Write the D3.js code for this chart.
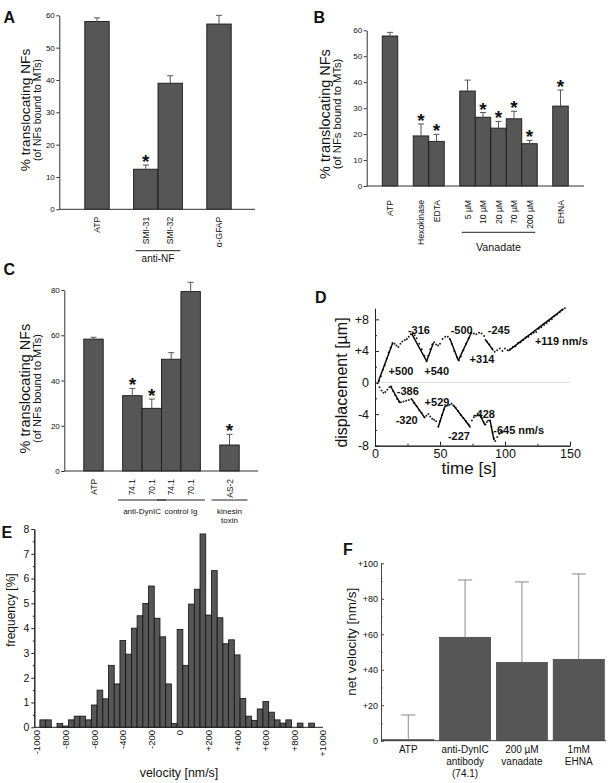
<!DOCTYPE html>
<html><head><meta charset="utf-8">
<script src="https://cdn.jsdelivr.net/npm/d3@7"></script>
<style>
body{margin:0;background:#fff}
svg{display:block}
text{font-family:"Liberation Sans",Arial,Helvetica,sans-serif;fill:#111}
</style>
</head><body>
<svg id="c" width="609" height="783"></svg>
<script>
// ---------- Panel A ----------
const aCats  = ["ATP","SMI-31","SMI-32","α-GFAP"];
const aGaps  = [0,1,0,1];
const aVals  = [58.1,12.4,39.0,57.3];
const aErrs  = [1.1,1.3,2.3,2.7];
const aStars = [0,1,0,0];
const aTicks = [0,10,20,30,40,50,60];
const aGroups = [{label:["anti-NF"],from:1,to:2}];

// ---------- Panel B ----------
const bCats  = ["ATP","Hexokinase","EDTA","5 µM","10 µM","20 µM","70 µM","200 µM","EHNA"];
const bGaps  = [0,1,0,1,0,0,0,0,1];
const bVals  = [57.8,19.3,17.2,36.6,26.5,22.3,25.9,16.3,30.8];
const bErrs  = [1.4,4.6,2.7,4.2,1.8,2.6,2.9,1.3,6.2];
const bStars = [0,1,1,0,1,1,1,1,1];
const bTicks = [0,10,20,30,40,50,60];
const bGroups = [{label:["Vanadate"],from:3,to:7}];

// ---------- Panel C ----------
const cCats  = ["ATP","74.1","70.1","74.1","70.1","AS-2"];
const cGaps  = [0,1,0,0,0,1];
const cVals  = [58.3,33.3,27.7,49.4,79.3,11.5];
const cErrs  = [0.8,3.2,4.1,2.9,4.1,4.7];
const cStars = [0,1,1,0,0,1];
const cTicks = [0,20,40,60,80];
const cGroups = [{label:["anti-DynIC"],from:1,to:2},{label:["control Ig"],from:3,to:4},{label:["kinesin","toxin"],from:5,to:5}];

// ---------- Panel D ----------
const dUpperDots = [[3,0.2],[4.5,0.8],[6,1.6],[7.5,2.2],[9,3.0],[10.5,3.8],[12,4.4],[13.5,5.0],[15,4.9],[16.5,4.7],[18,4.5],[19.5,4.9],[21,5.2],[23,5.4],[24.5,5.5],[26,5.8],[27.5,6.1],[29,6.2],[30.5,6.0],[32,5.6],[34,4.9],[36,4.2],[38,3.4],[39.7,2.7],[41,3.4],[42.5,4.2],[44,4.8],[45.5,5.1],[47,4.8],[48.5,4.7],[50,4.9],[52,5.5],[54,5.8],[56,5.8],[57.5,5.5],[59,4.9],[61,4.0],[63,3.2],[64.5,2.8],[66,3.3],[68,4.1],[70,4.9],[72,5.6],[74,6.3],[76,6.2],[78,6.1],[80,6.3],[82,6.2],[84,5.9],[86,5.2],[88,4.8],[90,4.3],[92,3.9],[94,4.1],[96,4.3],[98,4.0],[100,4.3],[102,4.1],[104,4.2],[106,4.5],[108,4.6],[110,5.0],[112,5.1],[114,5.4],[116,5.7],[118,5.8],[120,6.1],[122,6.3],[124,6.4],[126,6.8],[128,7.0],[130,7.3],[132,7.5],[134,7.8],[136,8.0],[138,8.4],[140,8.6],[142,8.9],[144,9.2],[146,9.4]];
const dLowerDots = [[2,-0.1],[3.5,-0.6],[5,-1.0],[6.5,-1.3],[8,-1.2],[9.5,-0.9],[11,-0.6],[12.5,-0.5],[14,-1.1],[15.5,-1.6],[17,-2.1],[18.5,-2.4],[20,-2.5],[22,-2.4],[24,-2.3],[26,-2.2],[28,-2.1],[30,-2.6],[32,-3.0],[34,-3.5],[36,-3.9],[38,-4.4],[39.5,-4.2],[41,-4.0],[42.5,-4.3],[44,-4.6],[45.5,-4.7],[47,-4.9],[48.7,-5.6],[50,-4.9],[51.5,-4.1],[53,-3.4],[54.5,-3.0],[56,-2.9],[57.5,-2.8],[59,-2.7],[60.3,-2.9],[62,-3.2],[64,-3.6],[66,-4.1],[68,-4.5],[70,-4.9],[72,-5.3],[73,-5.6],[74.5,-4.8],[76,-4.4],[77.5,-4.2],[79,-4.0],[80.5,-4.1],[82,-4.5],[83.5,-5.0],[85,-5.3],[86,-5.0],[87,-4.8],[88.5,-4.8],[89.5,-5.6],[90.5,-6.4],[91.5,-7.1],[92.5,-7.4],[94,-6.9],[95.5,-6.5],[97,-6.2],[98,-6.3]];
const dFits = [[2.5,0.1,13.6,5.0],[28.2,6.2,39.7,2.7],[39.7,2.7,44.9,5.0],[57.7,5.5,64.1,2.8],[64.1,2.8,74.4,6.4],[84.6,5.5,91,4.07],[102.6,4.0,144.9,9.33],
               [12,-0.47,19.2,-2.57],[28.2,-2.1,38.5,-4.5],[48.7,-5.6,53.8,-3.0],[60.3,-2.86,73.1,-5.6],[80.8,-4.1,84.6,-5.4],[88.5,-4.75,91.5,-7.3]];
const dLabels = [["-316",33.8,6.6,"middle"],["+500",20,1.5,"middle"],["+540",47.4,1.5,"middle"],["-500",66.7,6.6,"middle"],["+314",82.3,3.0,"middle"],["-245",95.2,6.6,"middle"],["+119 nm/s",123,5.2,"start"],
                 ["-386",25.2,-1.05,"middle"],["-320",24.4,-4.7,"middle"],["+529",47.7,-2.5,"middle"],["-227",64.6,-6.8,"middle"],["-428",83.8,-3.95,"middle"],["-645 nm/s",91,-6.05,"start"]];
const dXTicks = [0,50,100,150];
const dYTicks = [-8,-4,0,4,8];

// ---------- Panel E ----------
const eBinLo = [-980,-940,-900,-860,-820,-780,-740,-700,-660,-620,-580,-540,-500,-460,-420,-380,-340,-300,-260,-220,-180,-140,-100,-60,-20,20,60,100,140,180,220,260,300,340,380,420,460,500,540,580,620,660,700,740,780,820,860,900];
const eFreq  = [0.3,0.3,0,0.15,0.05,0.3,0.45,0.45,0.3,0.9,1.5,1.15,2.5,1.75,3.5,2.95,4.0,4.5,5.0,5.7,4.4,3.65,1.75,0.15,3.95,2.5,4.97,5.57,7.8,4.53,6.32,4.42,3.37,3.53,2.92,1.16,0.45,0.28,0.74,1.04,0.61,0.3,0.17,0.3,0,0.17,0,0.17];
const eBinW = 40;
const eXTicks = [-1000,-800,-600,-400,-200,0,200,400,600,800,1000];
const eYTicks = [0,1,2,3,4,5,6,7,8];

// ---------- Panel F ----------
const fCats = [["ATP"],["anti-DynIC","antibody","(74.1)"],["200 µM","vanadate"],["1mM","EHNA"]];
const fVals = [0.6,58.3,44.2,45.9];
const fErrs = [13.9,32.3,45.3,48.1];
const fTicks = [0,20,40,60,80,100];

const svg = d3.select("#c");
svg.append("rect").attr("width",609).attr("height",783).attr("fill","#fff");

function panelLetter(t,x,y){
  svg.append("text").attr("x",x).attr("y",y).attr("font-size",16).attr("font-weight","bold").text(t);
}

function barPanel(o){
  const g = svg.append("g");
  const slots=[]; let s=0;
  o.cats.forEach((c,i)=>{ s += o.gaps[i]; slots.push(s); s+=1; });
  const last = slots[slots.length-1];
  const x = d3.scaleLinear().domain([0,last]).range(o.centers);
  const bw = x(1)-x(0);
  const y = d3.scaleLinear().domain([0,o.yMax]).range(o.yPx);
  g.selectAll("rect.bar").data(o.vals).join("rect")
    .attr("x",(d,i)=>x(slots[i])-bw/2).attr("width",bw)
    .attr("y",d=>y(d)).attr("height",d=>y(0)-y(d))
    .attr("fill","#565656").attr("stroke","#1a1a1a").attr("stroke-width",0.9);
  o.vals.forEach((v,i)=>{
    const cx=x(slots[i]), top=y(v+o.errs[i]);
    g.append("line").attr("x1",cx).attr("x2",cx).attr("y1",y(v)).attr("y2",top).attr("stroke","#555").attr("stroke-width",1);
    g.append("line").attr("x1",cx-3).attr("x2",cx+3).attr("y1",top).attr("y2",top).attr("stroke","#555").attr("stroke-width",1);
    if(o.stars[i]) g.append("text").attr("x",cx).attr("y",top+3).attr("text-anchor","middle")
        .attr("font-size",19).attr("font-weight","bold").text("*");
  });
  const ax = g.append("g").attr("transform",`translate(${o.axisX},0)`)
    .call(d3.axisLeft(y).tickValues(o.ticks).tickSize(3).tickSizeOuter(0).tickPadding(1.5));
  ax.select(".domain").attr("stroke","#333");
  ax.selectAll(".tick line").attr("stroke","#333");
  ax.selectAll(".tick text").attr("font-size",o.tickFs).attr("font-family","Liberation Sans, Arial, sans-serif").attr("fill","#222");
  g.append("line").attr("x1",o.axisX).attr("x2",o.xEnd).attr("y1",y(0)).attr("y2",y(0)).attr("stroke","#333").attr("stroke-width",1);
  o.cats.forEach((c,i)=>{
    g.append("text").attr("transform",`translate(${x(slots[i])+o.catFs*0.36},${y(0)+o.catOffset}) rotate(-90)`)
      .attr("text-anchor","end").attr("font-size",o.catFs).text(c);
  });
  o.groups.forEach(gr=>{
    const l=x(slots[gr.from])-bw/2+2, r=x(slots[gr.to])+bw/2-2, cx=(l+r)/2;
    const tw = d3.max(gr.label, t=>t.length)*o.groupFs*0.5+8;
    const L=Math.min(l,cx-tw/2), R=Math.max(r,cx+tw/2);
    g.append("line").attr("x1",L).attr("x2",R).attr("y1",o.groupLineY).attr("y2",o.groupLineY).attr("stroke","#222").attr("stroke-width",1);
    gr.label.forEach((t,k)=>{
      g.append("text").attr("x",cx).attr("y",o.groupTextY+k*o.groupLead).attr("text-anchor","middle").attr("font-size",o.groupFs).text(t);
    });
  });
  g.append("text").attr("transform",`translate(${o.ylab.x1},${o.ylab.y}) rotate(-90)`).attr("text-anchor","middle").attr("font-size",o.ylab.fs1).text("% translocating NFs");
  g.append("text").attr("transform",`translate(${o.ylab.x2},${o.ylab.y}) rotate(-90)`).attr("text-anchor","middle").attr("font-size",o.ylab.fs2).text("(of NFs bound to MTs)");
}

barPanel({cats:aCats,gaps:aGaps,vals:aVals,errs:aErrs,stars:aStars,ticks:aTicks,yMax:60,yPx:[209.3,15.3],axisX:59.3,xEnd:255,
  centers:[97,219],catOffset:7.5,catFs:8.5,tickFs:8,groups:aGroups,groupLineY:250.7,groupTextY:262,groupFs:10,groupLead:10,
  ylab:{x1:29.5,x2:40.5,y:110,fs1:13.7,fs2:10.3}});
barPanel({cats:bCats,gaps:bGaps,vals:bVals,errs:bErrs,stars:bStars,ticks:bTicks,yMax:60,yPx:[186,30.3],axisX:366.7,xEnd:584,
  centers:[390,560.5],catOffset:14,catFs:8.6,tickFs:8,groups:bGroups,groupLineY:232.3,groupTextY:251,groupFs:10.7,groupLead:11,
  ylab:{x1:330,x2:340.5,y:114,fs1:14.5,fs2:11.2}});
barPanel({cats:cCats,gaps:cGaps,vals:cVals,errs:cErrs,stars:cStars,ticks:cTicks,yMax:80,yPx:[471,290],axisX:64.3,xEnd:258,
  centers:[93.5,229.5],catOffset:8,catFs:8.4,tickFs:8,groups:cGroups,groupLineY:500,groupTextY:514,groupFs:8,groupLead:9.3,
  ylab:{x1:30,x2:41,y:388.5,fs1:14.5,fs2:11}});

panelLetter("A",3.5,22.7);
panelLetter("B",313.5,22.7);
panelLetter("C",3.5,275);
panelLetter("D",315,302.7);
panelLetter("E",1.5,538);
panelLetter("F",343,555);

// ---------- Panel D draw ----------
(function(){
  const g = svg.append("g");
  const x = d3.scaleLinear().domain([0,150]).range([375,570]);
  const y = d3.scaleLinear().domain([-8,9.4]).range([445.7,308.3]);
  g.append("line").attr("x1",x(0)).attr("x2",x(150)).attr("y1",y(0)).attr("y2",y(0)).attr("stroke","#d4d4d4").attr("stroke-width",0.8);
  const ay = g.append("g").attr("transform",`translate(${x(0)},0)`).call(d3.axisLeft(y).tickValues(dYTicks).tickSize(-4).tickSizeOuter(0).tickPadding(6)
     .tickFormat(d=>d>0?"+"+d:String(d)));
  const ay2 = g.append("g").attr("transform",`translate(${x(0)},0)`).call(d3.axisLeft(y).tickValues([-6,-2,2,6]).tickSize(-2).tickSizeOuter(0).tickFormat(""));
  const ax = g.append("g").attr("transform",`translate(0,${y(-8)})`).call(d3.axisBottom(x).tickValues(dXTicks).tickSize(-4).tickSizeOuter(0).tickPadding(3));
  const ax2 = g.append("g").attr("transform",`translate(0,${y(-8)})`).call(d3.axisBottom(x).tickValues([25,75,125]).tickSize(-2).tickSizeOuter(0).tickFormat(""));
  [ay,ay2,ax,ax2].forEach(a=>{a.selectAll("path,line").attr("stroke","#222");a.selectAll("text").attr("font-size",12.5).attr("font-family","Liberation Sans, Arial, sans-serif").attr("fill","#111");});
  g.selectAll("circle.u").data(dUpperDots.concat(dLowerDots)).join("circle")
    .attr("cx",d=>x(d[0])).attr("cy",d=>y(d[1])).attr("r",1).attr("fill","#222");
  g.selectAll("line.fit").data(dFits).join("line")
    .attr("x1",d=>x(d[0])).attr("y1",d=>y(d[1])).attr("x2",d=>x(d[2])).attr("y2",d=>y(d[3]))
    .attr("stroke","#000").attr("stroke-width",1.4);
  dLabels.forEach(l=>{
    g.append("text").attr("x",x(l[1])).attr("y",y(l[2])+4).attr("text-anchor",l[3]).attr("font-size",11).attr("font-weight","bold").attr("fill","#222").text(l[0]);
  });
  g.append("text").attr("transform",`translate(347,382.5) rotate(-90)`).attr("text-anchor","middle").attr("font-size",16).text("displacement [µm]");
  g.append("text").attr("x",469).attr("y",474.3).attr("text-anchor","middle").attr("font-size",17).text("time [s]");
})();

// ---------- Panel E draw ----------
(function(){
  const g = svg.append("g");
  const x = d3.scaleLinear().domain([-1000,1000]).range([37,323]);
  const y = d3.scaleLinear().domain([0,8]).range([727.3,529]);
  const data = eBinLo.map((lo,i)=>({lo,f:eFreq[i]})).filter(d=>d.f>0);
  g.selectAll("rect").data(data).join("rect")
    .attr("x",d=>x(d.lo)).attr("width",d=>x(d.lo+eBinW)-x(d.lo))
    .attr("y",d=>y(d.f)).attr("height",d=>y(0)-y(d.f))
    .attr("fill","#565656").attr("stroke","#111").attr("stroke-width",0.8);
  const ay = g.append("g").attr("transform","translate(34.3,0)").call(d3.axisLeft(y).tickValues(eYTicks).tickSize(3).tickSizeOuter(0).tickPadding(2));
  const ay2 = g.append("g").attr("transform","translate(34.3,0)").call(d3.axisLeft(y).tickValues([0.5,1.5,2.5,3.5,4.5,5.5,6.5,7.5]).tickSize(1.5).tickSizeOuter(0).tickFormat(""));
  [ay,ay2].forEach(a=>{a.selectAll("path,line").attr("stroke","#222");a.selectAll("text").attr("font-size",10.5).attr("font-family","Liberation Sans, Arial, sans-serif").attr("fill","#111");});
  g.append("line").attr("x1",34.3).attr("x2",323).attr("y1",y(0)).attr("y2",y(0)).attr("stroke","#222");
  eXTicks.forEach(v=>{
    g.append("text").attr("transform",`translate(${x(v)+9.5*0.36},730) rotate(-90)`).attr("text-anchor","end").attr("font-size",9.5)
      .text(v>0?"+"+v:String(v));
  });
  g.append("text").attr("transform","translate(14.5,610) rotate(-90)").attr("text-anchor","middle").attr("font-size",12).text("frequency [%]");
  g.append("text").attr("x",179).attr("y",776.5).attr("text-anchor","middle").attr("font-size",12.4).text("velocity [nm/s]");
})();

// ---------- Panel F draw ----------
(function(){
  const g = svg.append("g");
  const x = d3.scaleBand().domain(d3.range(fCats.length)).range([381,606]).paddingInner(0.1).paddingOuter(0.03);
  const y = d3.scaleLinear().domain([0,100]).range([740.7,563.3]);
  g.selectAll("rect").data(fVals).join("rect")
    .attr("x",(d,i)=>x(i)).attr("width",x.bandwidth())
    .attr("y",d=>y(d)).attr("height",d=>y(0)-y(d))
    .attr("fill","#565656").attr("stroke","#3a3a3a").attr("stroke-width",0.6);
  fVals.forEach((v,i)=>{
    const cx=x(i)+x.bandwidth()/2, top=y(v+fErrs[i]);
    g.append("line").attr("x1",cx).attr("x2",cx).attr("y1",y(v)).attr("y2",top).attr("stroke","#8a8a8a").attr("stroke-width",1);
    g.append("line").attr("x1",cx-7).attr("x2",cx+7).attr("y1",top).attr("y2",top).attr("stroke","#8a8a8a").attr("stroke-width",1);
  });
  const ay = g.append("g").attr("transform","translate(381,0)").call(d3.axisLeft(y).tickValues(fTicks).tickSize(-3).tickSizeOuter(0).tickPadding(3)
    .tickFormat(d=>d>0?"+"+d:String(d)));
  const ay2 = g.append("g").attr("transform","translate(381,0)").call(d3.axisLeft(y).tickValues([10,30,50,70,90]).tickSize(-1.5).tickSizeOuter(0).tickFormat(""));
  [ay,ay2].forEach(a=>{a.selectAll("path,line").attr("stroke","#444");a.selectAll("text").attr("font-size",9).attr("font-family","Liberation Sans, Arial, sans-serif").attr("fill","#222");});
  g.append("line").attr("x1",381).attr("x2",606).attr("y1",y(0)).attr("y2",y(0)).attr("stroke","#444");
  fCats.forEach((lines,i)=>{
    lines.forEach((t,k)=>{
      g.append("text").attr("x",x(i)+x.bandwidth()/2).attr("y",753.3+k*11.7).attr("text-anchor","middle").attr("font-size",10).text(t);
    });
  });
  g.append("text").attr("transform","translate(355.5,641.7) rotate(-90)").attr("text-anchor","middle").attr("font-size",13.5).text("net velocity [nm/s]");
})();
</script>
</body></html>
